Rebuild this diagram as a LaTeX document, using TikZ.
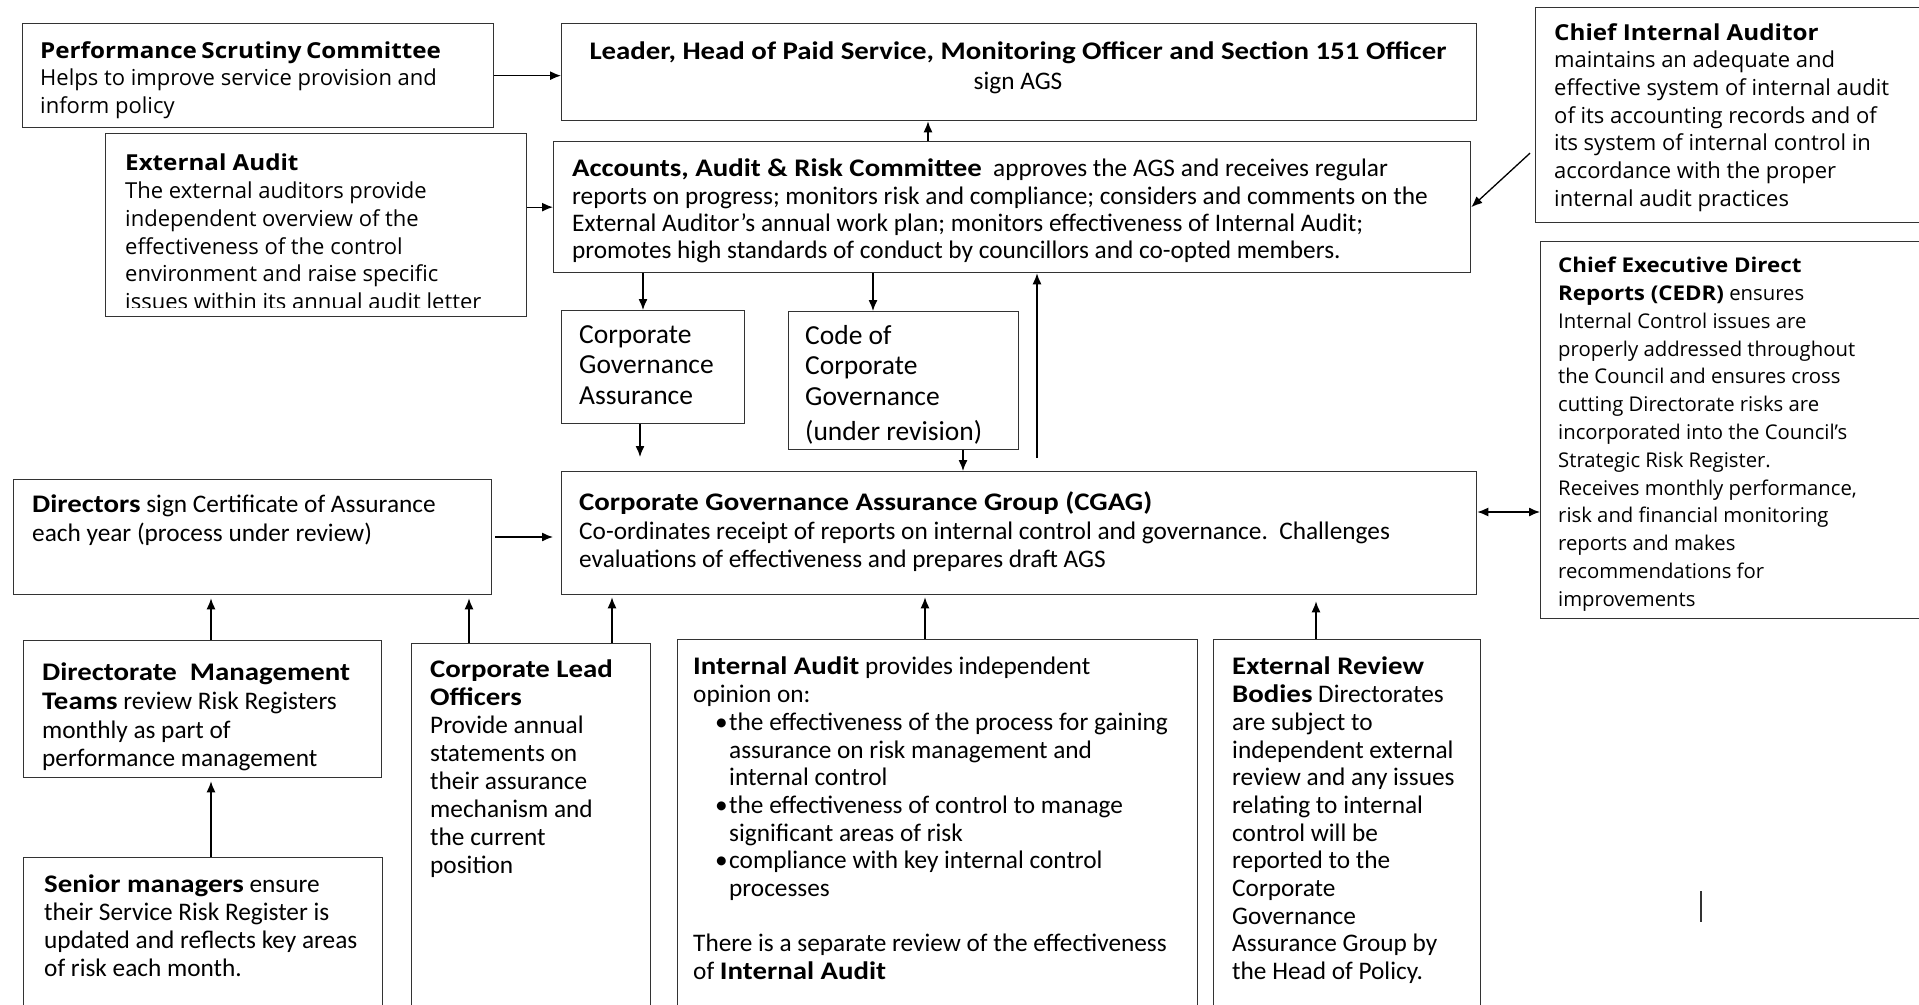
\documentclass[tikz,border=0pt]{standalone}
\usepackage{fontspec}
\setmainfont{Carlito}[BoldFeatures={FakeStretch=1.14}]
\newfontfamily\opensans{Open Sans}[BoldFeatures={FakeStretch=1.1}]
\usetikzlibrary{positioning,calc,arrows.meta}

\begin{document}
\begin{tikzpicture}[x=1pt,y=-1pt,
    box/.style={draw=black!80,line width=1.3pt,rectangle,anchor=north west,inner sep=0pt},
    txt/.style={anchor=north west,align=left,inner sep=0pt,font=\fontsize{25.3}{27.7}\selectfont},
    wtxt/.style={txt,font=\opensans\fontsize{22}{27.7}\selectfont},
    arr/.style={line width=1.3pt,-{Latex[length=11pt,width=9pt]}},
    dblarr/.style={line width=1.3pt,{Latex[length=11pt,width=9pt]}-{Latex[length=11pt,width=9pt]}},
  ]
\useasboundingbox (0,0) rectangle (1919,1004);
\clip (0,0) rectangle (1919,1004);

% boxes
\node[box,minimum width=471,minimum height=104] (psc) at (22,23) {};
\node[box,minimum width=915,minimum height=97] (leader) at (561,23) {};
\node[box,minimum width=420,minimum height=215] (cia) at (1535,7) {};
\node[box,minimum width=421,minimum height=183] (ea) at (105,133) {};
\node[box,minimum width=917,minimum height=131] (aarc) at (553,141) {};
\node[box,minimum width=183,minimum height=113] (cga) at (561,310) {};
\node[box,minimum width=230,minimum height=138] (code) at (788,311) {};
\node[box,minimum width=420,minimum height=377] (cedr) at (1540,241) {};
\node[box,minimum width=478,minimum height=115] (dirs) at (13,479) {};
\node[box,minimum width=915,minimum height=123] (cgag) at (561,471) {};
\node[box,minimum width=358,minimum height=137] (dmt) at (23,640) {};
\node[box,minimum width=359,minimum height=180] (snr) at (23,857) {};
\node[box,minimum width=239,minimum height=400] (clo) at (411,643) {};
\node[box,minimum width=520,minimum height=400] (ia) at (677,639) {};
\node[box,minimum width=267,minimum height=400] (erb) at (1213,639) {};

% texts
\node[wtxt] (psctxt) at (40,41) {\textbf{Performance\hspace{0.2em}Scrutiny\hspace{0.2em}Committee}\\
  Helps to improve service provision and\\inform policy};
\node[txt,anchor=north,align=center,font=\fontsize{25.3}{29.4}\selectfont] (leadertxt) at (1018,42)
  {\textbf{Leader, Head of Paid Service, Monitoring Officer and Section 151 Officer}\\sign AGS};
\node[wtxt] (ciatxt) at (1554,23) {\textbf{Chief Internal Auditor}\\maintains an adequate and\\
  effective system of internal audit\\of its accounting records and of\\
  its system of internal control in\\accordance with the proper\\internal audit practices};
\begin{scope}
  \clip (ea.north west) rectangle ([yshift=10]ea.south east);
  \node[wtxt] (eatxt) at (125,154) {\textbf{External Audit}\\The external auditors provide\\
    independent overview of the\\effectiveness of the control\\
    environment and raise specific\\issues within its annual audit letter};
\end{scope}
\node[txt,font=\fontsize{25.3}{27.3}\selectfont] (aarctxt) at (572,159)
  {\textbf{Accounts, Audit \& Risk Committee}\ \ approves the AGS and receives regular\\
  reports on progress; monitors risk and compliance; considers and comments on the\\
  External Auditor’s annual work plan; monitors effectiveness of Internal Audit;\\
  promotes high standards of conduct by councillors and co-opted members.};
\node[txt,font=\fontsize{27.5}{30.6}\selectfont] (cgatxt) at (579,325) {Corporate\\Governance\\Assurance};
\node[txt,font=\fontsize{27.5}{30.6}\selectfont] (codetxt) at (805,325)
  {Code of\\Corporate\\Governance\\[4pt](under revision)};
\node[wtxt,font=\opensans\fontsize{20.3}{27.8}\selectfont] (cedrtxt) at (1558,257)
  {\textbf{Chief Executive Direct}\\\textbf{Reports (CEDR)} ensures\\Internal Control issues are\\
  properly addressed throughout\\the Council and ensures cross\\cutting Directorate risks are\\
  incorporated into the Council’s\\Strategic Risk Register.\\Receives monthly performance,\\
  risk and financial monitoring\\reports and makes\\recommendations for\\improvements};
\node[txt,font=\fontsize{25.3}{28.2}\selectfont] (dirstxt) at (32,495)
  {\textbf{Directors} sign Certificate of Assurance\\each year (process under review)};
\node[txt,font=\fontsize{25.3}{28.2}\selectfont] (cgagtxt) at (579,492)
  {\textbf{Corporate Governance Assurance Group (CGAG)}\\
  Co-ordinates receipt of reports on internal control and governance.\ \ Challenges\\
  evaluations of effectiveness and prepares draft AGS};
\node[txt,font=\fontsize{25.3}{28.6}\selectfont] (dmttxt) at (42,663)
  {\textbf{Directorate\ \ Management}\\\textbf{Teams} review Risk Registers\\
  monthly as part of\\performance management};
\node[txt] (snrtxt) at (44,875) {\textbf{Senior managers} ensure\\their Service Risk Register is\\
  updated and reflects key areas\\of risk each month.};
\node[txt,font=\fontsize{25.3}{28}\selectfont] (clotxt) at (430,660) {\textbf{Corporate Lead}\\\textbf{Officers}\\Provide annual\\
  statements on\\their assurance\\mechanism and\\the current\\position};
\node[txt] (iatxt) at (693,657) {\textbf{Internal Audit} provides independent\\opinion on:\\
  \hspace*{22pt}\makebox[14pt][l]{\textbullet}the effectiveness of the process for gaining\\
  \hspace*{36pt}assurance on risk management and\\
  \hspace*{36pt}internal control\\
  \hspace*{22pt}\makebox[14pt][l]{\textbullet}the effectiveness of control to manage\\
  \hspace*{36pt}significant areas of risk\\
  \hspace*{22pt}\makebox[14pt][l]{\textbullet}compliance with key internal control\\
  \hspace*{36pt}processes\\[27.7pt]
  There is a separate review of the effectiveness\\of \textbf{Internal Audit}};
\node[txt] (erbtxt) at (1232,657) {\textbf{External Review}\\\textbf{Bodies} Directorates\\
  are subject to\\independent external\\review and any issues\\relating to internal\\
  control will be\\reported to the\\Corporate\\Governance\\Assurance Group by\\the Head of Policy.};

% connectors
\draw[arr] (psc.east) -- (psc.east -| leader.west);
\draw[arr] (aarc.north -| 928,0) -- (leader.south -| 928,0);
\draw[arr] ($(cia.west)+(-5,38)$) -- (aarc.east);
\draw[arr] (ea.east |- aarc.west) -- (aarc.west);
\draw[arr] (aarc.south -| 643,0) -- (cga.north -| 643,0);
\draw[arr] (aarc.south -| 873,0) -- (code.north -| 873,0);
\draw[arr,shorten >=14] (cga.south -| 640,0) -- (cgag.north -| 640,0);
\draw[arr] (code.south -| 963,0) -- (cgag.north -| 963,0);
\draw[arr,shorten <=13] (cgag.north -| 1037,0) -- (aarc.south -| 1037,0);
\draw[dblarr] (cgag.east |- 0,512) -- (cedr.west |- 0,512);
\draw[arr,shorten <=3,shorten >=8] (dirs.east |- 0,537) -- (cgag.west |- 0,537);
\draw[arr,shorten >=3] (dmt.north -| 211,0) -- (dirs.south -| 211,0);
\draw[arr,shorten >=3] (snr.north -| 211,0) -- (dmt.south -| 211,0);
\draw[arr,shorten >=3] (clo.north -| 469,0) -- (dirs.south -| 469,0);
\draw[arr,shorten >=2] (clo.north -| 612,0) -- (cgag.south -| 612,0);
\draw[arr,shorten >=2] (ia.north -| 925,0) -- (cgag.south -| 925,0);
\draw[arr,shorten >=6] (erb.north -| 1316,0) -- (cgag.south -| 1316,0);

\draw[line width=1.5pt,black!80] (1701,891) -- (1701,922);
\end{tikzpicture}
\end{document}
